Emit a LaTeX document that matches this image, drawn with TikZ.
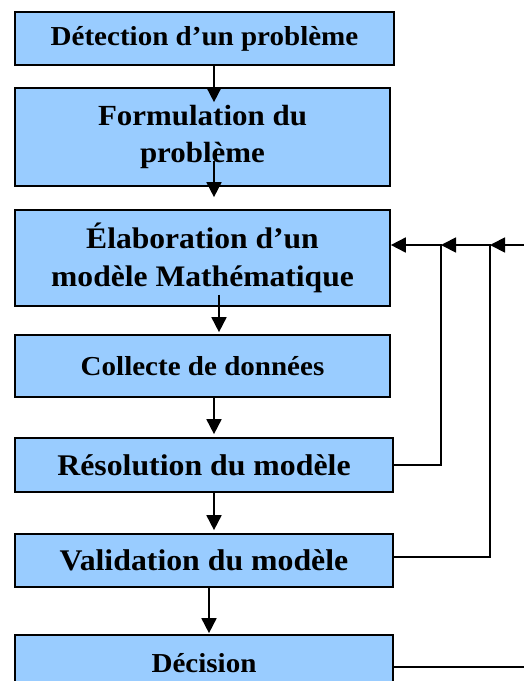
\documentclass[tikz,border=0pt]{standalone}
\usepackage{fontspec}
\setmainfont{Liberation Serif}[FakeStretch=1.06]
\usetikzlibrary{arrows.meta,positioning,calc}
\definecolor{boxblue}{RGB}{153,204,255}
\tikzset{
   box/.style = {%
    shape=rectangle,
    draw=black,
    fill=boxblue,
    line width=1.7pt,
    inner sep=0pt,
    align=center,
    font=\bfseries},
 arrow/.style = {%
    draw=black,
    line width=1.8pt,
    -{Triangle[length=15pt,width=15pt]}},
    }

\begin{document}
\begin{tikzpicture}[x=1pt,y=-1pt]
    \clip (0,0) rectangle (524,681);
    \fill[white] (0,0) rectangle (524,681);
    % etapes
    \node[box, minimum width=379pt, minimum height=53pt, font=\bfseries\fontsize{27.4}{33}\selectfont] (detect) at (204.5,38.5) {Détection d’un problème};
    \node[box, minimum width=375pt, minimum height=98pt, font=\bfseries\fontsize{29.2}{37}\selectfont] (formul) at (202.5,137) {Formulation du\\problème};
    \node[box, minimum width=375pt, minimum height=96pt, font=\bfseries\fontsize{29.8}{38.5}\selectfont] (elabor) at (202.5,258) {Élaboration d’un\\modèle Mathématique};
    \node[box, minimum width=375pt, minimum height=62pt, font=\bfseries\fontsize{27.4}{33}\selectfont] (collec) at (202.5,366) {Collecte de données};
    \node[box, minimum width=378pt, minimum height=54pt, font=\bfseries\fontsize{30}{36}\selectfont] (resol) at (204,465) {Résolution du modèle};
    \node[box, minimum width=378pt, minimum height=53pt, font=\bfseries\fontsize{30}{36}\selectfont] (valid) at (204,560.5) {Validation du modèle};
    \node[box, minimum width=378pt, minimum height=56pt, font=\bfseries\fontsize{27.4}{33}\selectfont] (decis) at (204,663) {Décision};
    % points de retour
    \coordinate (ret1) at (441,245);
    \coordinate (ret2) at (490,245);
    \coordinate (ret3) at (545,245);
    % fleches descendantes
    \draw[arrow] ([xshift=9.5pt]detect.south) -- ([xshift=11.5pt,yshift=-15pt]formul.north);
    \draw[arrow] ([xshift=11.5pt,yshift=26pt]formul.south) -- ([xshift=11.5pt,yshift=12pt]elabor.north);
    \draw[arrow] ([xshift=16.5pt,yshift=12pt]elabor.south) -- ([xshift=16.5pt,yshift=2pt]collec.north);
    \draw[arrow] ([xshift=11.5pt]collec.south) -- ([xshift=10pt,yshift=3pt]resol.north);
    \draw[arrow] ([xshift=10pt]resol.south) -- ([xshift=10pt,yshift=3pt]valid.north);
    \draw[arrow] ([xshift=5pt]valid.south) -- ([xshift=5pt,yshift=1pt]decis.north);
    % boucles de retour
    \draw[arrow] (resol.east) -| (ret1) -- (ret1 -| elabor.east);
    \draw[arrow] ([yshift=3.5pt]valid.east) -| (ret2) -- (ret1);
    \draw[arrow] ([yshift=-4pt]decis.east) -| (ret3) -- (ret2);
\end{tikzpicture}
\end{document}
